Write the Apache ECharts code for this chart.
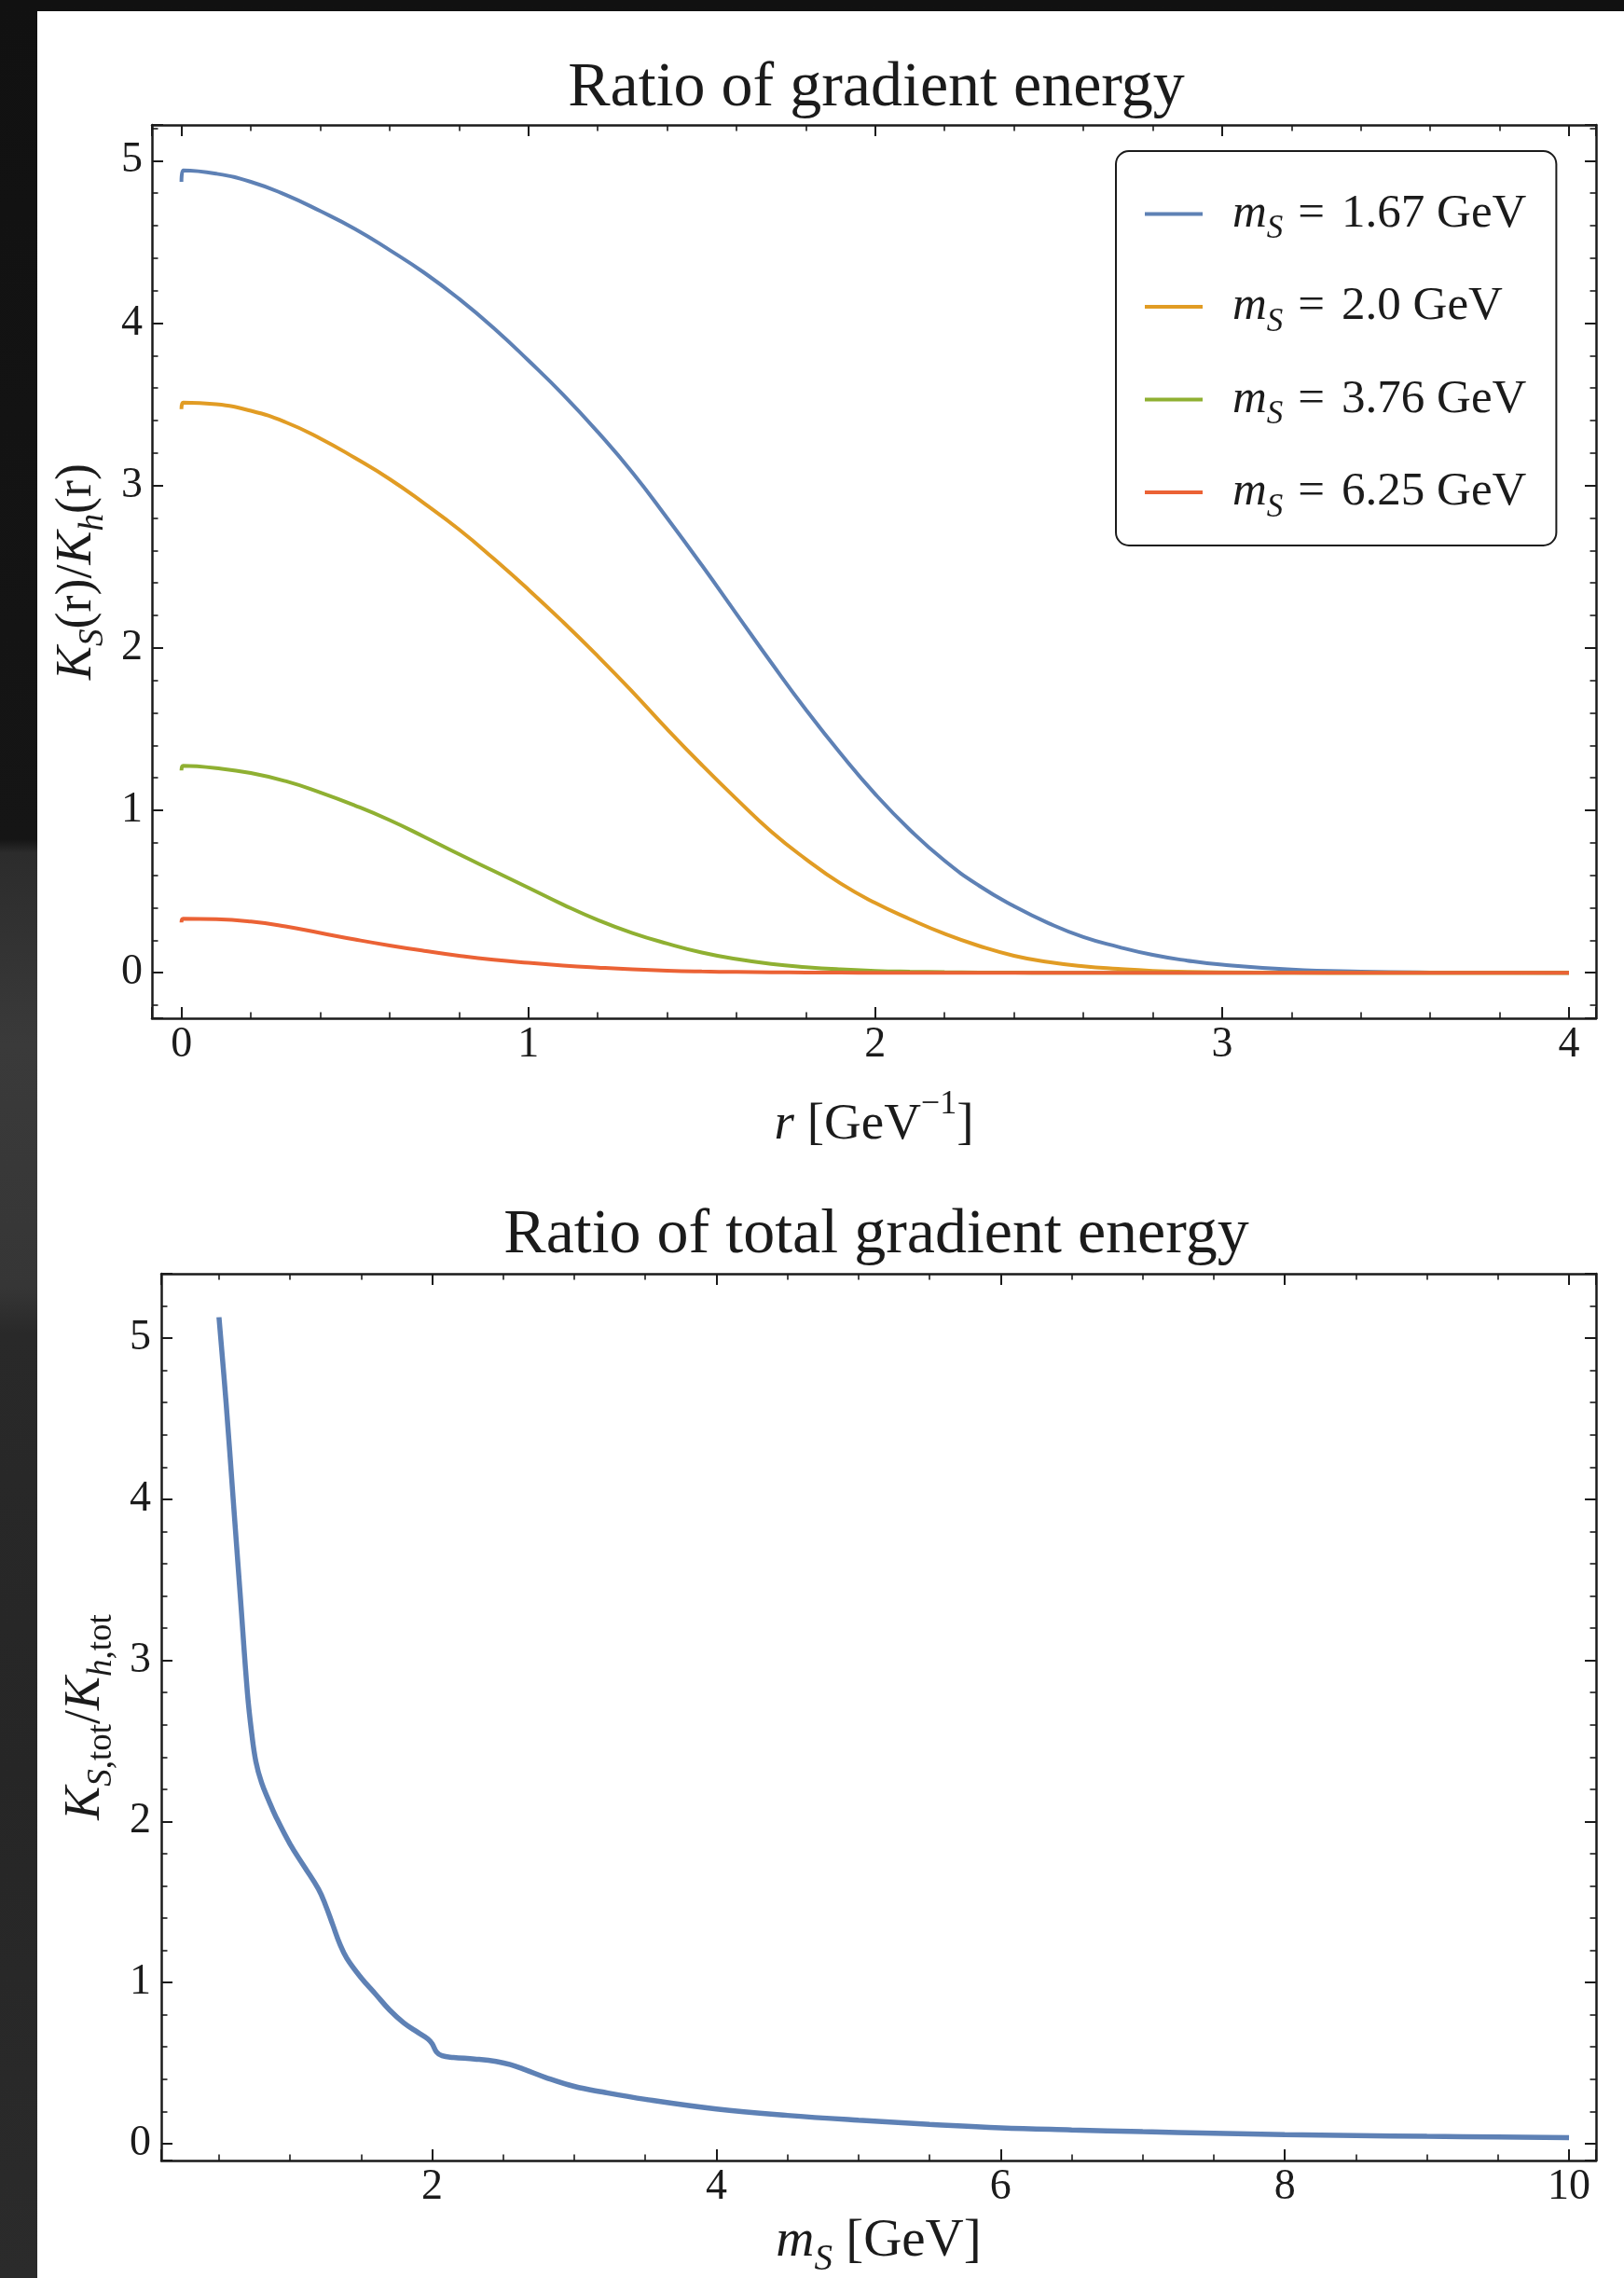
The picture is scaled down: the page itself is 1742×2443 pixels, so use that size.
<!DOCTYPE html>
<html>
<head>
<meta charset="utf-8">
<title>Ratio of gradient energy</title>
<script src="https://cdn.jsdelivr.net/npm/echarts@6/dist/echarts.min.js"></script>
<style>
  html, body { margin: 0; padding: 0; width: 1742px; height: 2443px; overflow: hidden; }
  body {
    background: linear-gradient(to bottom,
      #111 0px, #151515 900px, #2c2c2c 915px, #3a3a3a 1120px,
      #363636 1380px, #292929 1430px, #262626 1900px, #2b2b2b 2443px);
  }
  #sheet { position: absolute; left: 40px; top: 12px; right: 0; bottom: 0; background: #fff; }
  #chart { position: absolute; left: 0; top: 0; width: 1742px; height: 2443px; }
</style>
</head>
<body>
<div id="sheet"></div>
<div id="chart"></div>
<script>
// K_S(r)/K_h(r) along r [GeV^-1] for four singlet masses
const rValues = [0, 0.005, 0.1, 0.2, 0.3, 0.4, 0.5, 0.6, 0.7, 0.8, 0.9, 1.0, 1.1, 1.2, 1.3, 1.4, 1.5, 1.6, 1.7, 1.8,
                 1.9, 2.0, 2.1, 2.2, 2.3, 2.4, 2.5, 2.6, 2.7, 2.8, 2.9, 3.0, 3.2, 3.4, 3.6, 3.8, 4.0];
const massLabels = ['1.67', '2.0', '3.76', '6.25'];
const ratioM167 = [4.87, 4.94, 4.92, 4.87, 4.79, 4.69, 4.58, 4.45, 4.31, 4.15, 3.97, 3.77, 3.56, 3.33, 3.08, 2.80, 2.51, 2.21, 1.91, 1.62,
                   1.35, 1.10, 0.88, 0.69, 0.535, 0.41, 0.305, 0.22, 0.16, 0.11, 0.075, 0.05, 0.02, 0.007, 0.002, 0.001, 0];
const ratioM200 = [3.47, 3.51, 3.50, 3.46, 3.39, 3.29, 3.17, 3.04, 2.89, 2.73, 2.55, 2.36, 2.16, 1.95, 1.73, 1.50, 1.28, 1.07, 0.87, 0.70,
                   0.55, 0.43, 0.33, 0.24, 0.165, 0.105, 0.066, 0.040, 0.024, 0.012, 0.006, 0.003, 0.001, 0, 0, 0, 0];
const ratioM376 = [1.245, 1.274, 1.26, 1.23, 1.18, 1.11, 1.03, 0.94, 0.837, 0.73, 0.627, 0.524, 0.42, 0.325, 0.245, 0.18, 0.125, 0.085, 0.055, 0.035,
                   0.021, 0.012, 0.007, 0.004, 0.002, 0.001, 0, 0, 0, 0, 0, 0, 0, 0, 0, 0, 0];
const ratioM625 = [0.31, 0.333, 0.33, 0.315, 0.285, 0.245, 0.205, 0.168, 0.135, 0.105, 0.08, 0.061, 0.045, 0.032, 0.021, 0.013, 0.008, 0.005, 0.003, 0.002,
                   0.001, 0, 0, 0, 0, 0, 0, 0, 0, 0, 0, 0, 0, 0, 0, 0, 0];

// K_S,tot/K_h,tot against m_S [GeV]
const msValues = [0.5, 0.55, 0.6, 0.65, 0.7, 0.73, 0.76, 0.8, 0.85, 0.9, 1.0, 1.1, 1.2, 1.25, 1.3, 1.35, 1.4, 1.5, 1.6, 1.7,
                  1.8, 1.9, 1.97, 2.0, 2.03, 2.07, 2.15, 2.3, 2.45, 2.55, 2.65, 2.8, 3.0, 3.2, 3.5, 4.0, 4.5, 5.0, 5.5, 6.0,
                  6.5, 7.0, 7.5, 8.0, 8.5, 9.0, 9.5, 10.0];
const totalRatio = [5.13, 4.6, 4.0, 3.4, 2.8, 2.55, 2.37, 2.24, 2.13, 2.03, 1.86, 1.72, 1.58, 1.48, 1.36, 1.24, 1.15, 1.03, 0.93, 0.83,
                    0.75, 0.69, 0.65, 0.62, 0.57, 0.545, 0.535, 0.525, 0.51, 0.49, 0.46, 0.41, 0.355, 0.32, 0.275, 0.215, 0.175, 0.145, 0.12, 0.098,
                    0.085, 0.074, 0.065, 0.056, 0.05, 0.045, 0.041, 0.037];

const lineColors = ['#5E81B5', '#E19C24', '#8FB032', '#EB6235'];
const profileSets = [ratioM167, ratioM200, ratioM376, ratioM625];

const FONT = "'Liberation Serif', 'Times New Roman', serif";
const INK = '#1b1b1b';

const pairs = (xs, ys) => xs.map((x, i) => [x, ys[i]]);
const intLabel = v => (Math.abs(v - Math.round(v)) < 1e-6 ? String(Math.round(v)) : '');

// Rich text pieces for italic symbols, subscripts and superscripts
function richSub(size) {
  return {
    i:    { fontFamily: FONT, fontStyle: 'italic', fontSize: size, lineHeight: Math.round(size * 1.36), color: INK },
    t:    { fontFamily: FONT, fontSize: size, lineHeight: Math.round(size * 1.36), color: INK },
    sub:  { fontFamily: FONT, fontStyle: 'italic', fontSize: Math.round(size * 0.68), lineHeight: Math.round(size * 0.68), verticalAlign: 'bottom', color: INK },
    subr: { fontFamily: FONT, fontSize: Math.round(size * 0.68), lineHeight: Math.round(size * 0.68), verticalAlign: 'bottom', color: INK }
  };
}
const richSup = {
  i:   { fontFamily: FONT, fontStyle: 'italic', fontSize: 55, lineHeight: 80, color: INK },
  t:   { fontFamily: FONT, fontSize: 55, lineHeight: 80, color: INK },
  sup: { fontFamily: FONT, fontSize: 36, lineHeight: 36, verticalAlign: 'top', color: INK }
};

// Framed axis: ticks point inward, minor ticks between majors, no grid lines
function frameAxis(extra) {
  const base = {
    type: 'value',
    axisLine: { show: true, onZero: false, lineStyle: { color: INK, width: 2.5 } },
    axisTick: { show: true, inside: true, length: 12, lineStyle: { color: INK, width: 2 } },
    minorTick: { show: true, splitNumber: 5, length: 6.5, lineStyle: { color: INK, width: 1.6 } },
    splitLine: { show: false },
    minorSplitLine: { show: false },
    axisLabel: { show: false }
  };
  return Object.assign(base, extra);
}
function tickLabels(margin) {
  return { show: true, margin: margin, color: INK, fontFamily: FONT, fontSize: 46, interval: 0, formatter: intLabel };
}
const minorHalf = { show: true, splitNumber: 4, length: 6.5, lineStyle: { color: INK, width: 1.6 } };

const chart = echarts.init(document.getElementById('chart'), null, { renderer: 'canvas' });

const option = {
  animation: false,
  backgroundColor: 'transparent',
  title: [
    { text: 'Ratio of gradient energy', left: 940, top: 61, textAlign: 'center', padding: 0,
      textStyle: { fontFamily: FONT, fontSize: 68, fontWeight: 'normal', color: INK } },
    { text: 'Ratio of total gradient energy', left: 940, top: 1291, textAlign: 'center', padding: 0,
      textStyle: { fontFamily: FONT, fontSize: 68, fontWeight: 'normal', color: INK } }
  ],
  grid: [
    { left: 163, top: 134, width: 1549, height: 958, containLabel: false, outerBoundsMode: 'none' },
    { left: 173, top: 1366, width: 1539, height: 951, containLabel: false, outerBoundsMode: 'none' }
  ],
  xAxis: [
    frameAxis({ gridIndex: 0, position: 'bottom', min: -0.085, max: 4.078, minInterval: 1, maxInterval: 1,
      axisLabel: tickLabels(6),
      name: '{i|r}{t| [GeV}{sup|\u22121}{t|]}', nameLocation: 'middle', nameGap: 75,
      nameTextStyle: { fontFamily: FONT, fontSize: 55, color: INK, rich: richSup } }),
    frameAxis({ gridIndex: 0, position: 'top', min: -0.085, max: 4.078, minInterval: 1, maxInterval: 1 }),
    frameAxis({ gridIndex: 1, position: 'bottom', min: 0.094, max: 10.19, minInterval: 2, maxInterval: 2,
      minorTick: minorHalf,
      axisLabel: tickLabels(6),
      name: '{i|m}{sub|S}{t| [GeV]}', nameLocation: 'middle', nameGap: 48,
      nameTextStyle: { fontFamily: FONT, fontSize: 57, color: INK, rich: richSub(57) } }),
    frameAxis({ gridIndex: 1, position: 'top', min: 0.094, max: 10.19, minInterval: 2, maxInterval: 2,
      minorTick: minorHalf })
  ],
  yAxis: [
    frameAxis({ gridIndex: 0, position: 'left', min: -0.28, max: 5.22, minInterval: 1, maxInterval: 1,
      axisLabel: tickLabels(10),
      name: '{i|K}{sub|S}{t|(r)/}{i|K}{sub|h}{t|(r)}', nameLocation: 'middle', nameRotate: 90, nameGap: 36,
      nameTextStyle: { fontFamily: FONT, fontSize: 54, color: INK, rich: richSub(54) } }),
    frameAxis({ gridIndex: 0, position: 'right', min: -0.28, max: 5.22, minInterval: 1, maxInterval: 1 }),
    frameAxis({ gridIndex: 1, position: 'left', min: -0.105, max: 5.40, minInterval: 1, maxInterval: 1,
      axisLabel: tickLabels(11),
      name: '{i|K}{sub|S}{subr|,tot}{t|/}{i|K}{sub|h}{subr|,tot}', nameLocation: 'middle', nameRotate: 90, nameGap: 41,
      nameTextStyle: { fontFamily: FONT, fontSize: 54, color: INK, rich: richSub(54) } }),
    frameAxis({ gridIndex: 1, position: 'right', min: -0.105, max: 5.40, minInterval: 1, maxInterval: 1 })
  ],
  legend: {
    show: true, orient: 'vertical', left: 1197, top: 162,
    padding: [42, 32, 23, 31],
    itemWidth: 62, itemHeight: 4, itemGap: 40, icon: 'rect',
    backgroundColor: '#fff', borderColor: INK, borderWidth: 2, borderRadius: 14,
    selectedMode: false,
    data: massLabels,
    formatter: n => '{g|}{i|m}{sub|S}{eq|=}{t|' + n + ' GeV}',
    textStyle: {
      fontFamily: FONT, fontSize: 51, color: INK,
      rich: {
        g:   { width: 27, lineHeight: 68 },
        i:   { fontFamily: FONT, fontStyle: 'italic', fontSize: 51, lineHeight: 68, color: INK },
        sub: { fontFamily: FONT, fontStyle: 'italic', fontSize: 35, lineHeight: 35, verticalAlign: 'bottom', color: INK },
        eq:  { fontFamily: FONT, fontSize: 51, lineHeight: 68, padding: [0, 18, 0, 16], color: INK },
        t:   { fontFamily: FONT, fontSize: 51, lineHeight: 68, color: INK }
      }
    }
  },
  series: profileSets.map((vals, k) => ({
    name: massLabels[k],
    type: 'line',
    xAxisIndex: 0, yAxisIndex: 0,
    data: pairs(rValues, vals),
    showSymbol: false, symbol: 'none',
    smooth: 0.5,
    lineStyle: { color: lineColors[k], width: 4 },
    itemStyle: { color: lineColors[k] },
    silent: true
  })).concat([{
    name: 'total',
    type: 'line',
    xAxisIndex: 2, yAxisIndex: 2,
    data: pairs(msValues, totalRatio),
    showSymbol: false, symbol: 'none',
    smooth: 0.4,
    lineStyle: { color: lineColors[0], width: 5.5 },
    itemStyle: { color: lineColors[0] },
    silent: true
  }])
};

chart.setOption(option);
</script>
</body>
</html>
